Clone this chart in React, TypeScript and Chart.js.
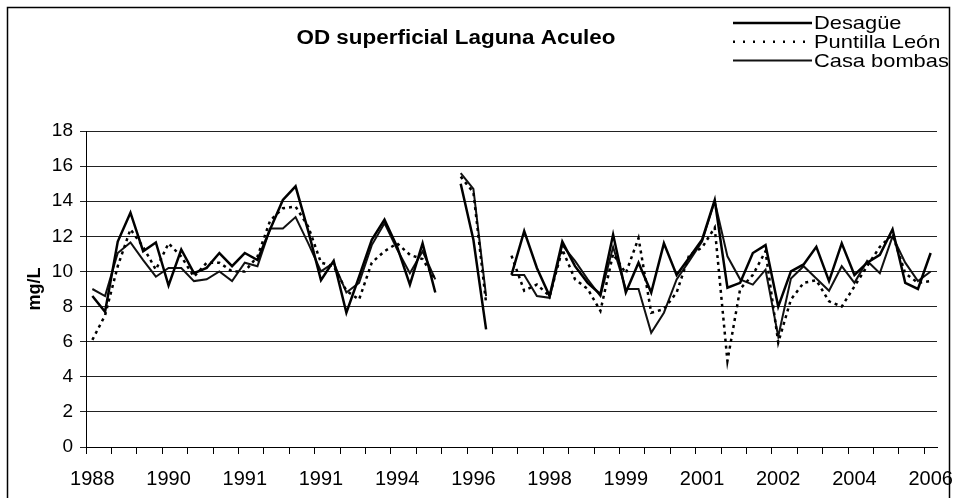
import React, { useEffect, useRef } from 'react';
import { Chart, registerables } from 'chart.js';

Chart.register(...registerables);

const chartTitle = 'OD superficial Laguna Aculeo';
const yAxisTitle = 'mg/L';
const seriesNames = ['Desagüe', 'Puntilla León', 'Casa bombas'];

// Labels shown on the category axis (one every 6 samples)
const tickYears = ['1988', '1990', '1991', '1991', '1994', '1996', '1998', '1999', '2001', '2002', '2004', '2006'];
const sampleCount = 67;
const categories = Array.from({ length: sampleCount }, (_, i) => (i % 6 === 0 ? tickYears[i / 6] : `m${i}`));

const yTicks = { min: 0, max: 18, step: 2 };

const desague = [
  8.6, 7.7, 11.7, 13.35, 11.15, 11.65, 9.2, 11.25, 9.9, 10.2,
  11.05, 10.3, 11.05, 10.65, 12.4, 14.07, 14.85, 12.3, 9.5, 10.6,
  7.65, 9.7, 11.8, 12.95, 11.4, 9.25, 11.6, 8.8, null, 15.0,
  11.8, 6.7, null, 9.8, 12.3, 10.2, 8.6, 11.7, 10.3, 9.35,
  8.7, 12.1, 8.8, 10.5, 8.8, 11.6, 9.8, 10.8, 11.8, 14.07,
  9.07, 9.35, 11.05, 11.5, 8.0, 10.0, 10.4, 11.4, 9.45, 11.6,
  9.8, 10.5, 10.95, 12.4, 9.35, 9.0, 11.05,
];

const puntillaLeon = [
  6.1, 7.5, 10.3, 12.4, 11.4, 10.1, 11.6, 10.85, 9.7, 10.5,
  10.5, 10.0, 10.0, 10.85, 12.9, 13.6, 13.7, 12.55, 10.5, 10.3,
  8.9, 8.4, 10.5, 11.15, 11.6, 10.95, 10.7, 9.55, null, 15.4,
  14.5, 8.2, null, 10.9, 8.9, 9.25, 8.6, 11.25, 9.55, 9.0,
  7.75, 11.0, 9.9, 11.9, 7.65, 7.85, 8.8, 10.95, 11.35, 12.5,
  4.9, 9.0, 9.8, 11.15, 5.95, 8.4, 9.35, 9.5, 8.3, 8.0,
  9.15, 10.3, 11.4, 12.1, 9.9, 9.35, 9.45,
];

const casaBombas = [
  9.0, 8.6, 11.05, 11.65, 10.65, 9.7, 10.2, 10.2, 9.45, 9.55,
  10.0, 9.45, 10.5, 10.3, 12.45, 12.45, 13.1, 11.6, 10.0, 10.5,
  8.8, 9.35, 11.5, 12.75, 11.25, 9.9, 11.15, 9.55, null, 15.6,
  14.7, 8.6, null, 9.8, 9.8, 8.6, 8.5, 11.5, 10.6, 9.55,
  8.6, 11.4, 9.0, 9.0, 6.5, 7.65, 9.55, 10.6, 11.7, 14.0,
  10.86, 9.55, 9.25, 10.1, 6.3, 9.6, 10.3, 9.6, 8.9, 10.3,
  9.35, 10.6, 9.9, 12.0, 10.5, 9.45, 10.0,
];

const FONT = '"Liberation Sans", Arial, Helvetica, sans-serif';

const decorPlugin = {
  id: 'decor',
  afterDraw(chart: any) {
    const ctx = chart.ctx as CanvasRenderingContext2D;
    ctx.save();
    ctx.strokeStyle = '#000';
    ctx.lineWidth = 1.5;
    ctx.strokeRect(7.5, 7.5, 942, 520);
    ctx.fillStyle = '#000';
    ctx.font = `bold 19.5px ${FONT}`;
    ctx.textAlign = 'center';
    ctx.textBaseline = 'alphabetic';
    ctx.translate(456, 44);
    ctx.scale(1.15, 1);
    ctx.fillText(chartTitle, 0, 0);
    ctx.restore();

    chart.data.datasets.forEach((ds: any, i: number) => {
      const y = 23 + i * 18.7;
      ctx.save();
      ctx.strokeStyle = ds.borderColor;
      ctx.lineWidth = ds.borderWidth;
      ctx.setLineDash(ds.borderDash ? [2, 8] : []);
      ctx.beginPath();
      ctx.moveTo(733, y);
      ctx.lineTo(812, y);
      ctx.stroke();
      ctx.setLineDash([]);
      ctx.fillStyle = '#000';
      ctx.font = `19px ${FONT}`;
      ctx.textBaseline = 'middle';
      ctx.textAlign = 'left';
      ctx.translate(814, y + 1);
      ctx.scale(1.15, 1);
      ctx.fillText(ds.label, 0, 0);
      ctx.restore();
    });
  },
};

export default function App() {
  const ref = useRef<HTMLCanvasElement | null>(null);

  useEffect(() => {
    document.body.style.margin = '0';
    const canvas = ref.current;
    if (!canvas) return;
    const chart = new Chart(canvas, {
      type: 'line',
      data: {
        labels: categories,
        datasets: [
          {
            label: seriesNames[0],
            data: desague,
            borderColor: '#000',
            borderWidth: 2.5,
            pointRadius: 0,
            tension: 0,
            spanGaps: false,
          },
          {
            label: seriesNames[1],
            data: puntillaLeon,
            borderColor: '#000',
            borderWidth: 2.5,
            borderDash: [3, 4],
            pointRadius: 0,
            tension: 0,
            spanGaps: false,
          },
          {
            label: seriesNames[2],
            data: casaBombas,
            borderColor: '#111',
            borderWidth: 2,
            pointRadius: 0,
            tension: 0,
            spanGaps: false,
          },
        ],
      },
      options: {
        animation: false,
        responsive: false,
        devicePixelRatio: 1,
        layout: { padding: { top: 131, right: 17, left: 0, bottom: 0 } },
        plugins: {
          legend: { display: false },
          title: { display: false },
          tooltip: { enabled: false },
        },
        scales: {
          x: {
            type: 'category',
            offset: true,
            afterFit: (s: any) => {
              s.height = 51;
              s.paddingLeft = 0;
              s.paddingRight = 0;
            },
            border: { display: true, color: '#000', width: 1 },
            grid: {
              offset: true,
              drawOnChartArea: false,
              drawTicks: true,
              tickLength: 7,
              color: (c: any) => (c.index % 2 === 0 ? '#000' : 'rgba(0,0,0,0)'),
            },
            ticks: {
              autoSkip: false,
              maxRotation: 0,
              minRotation: 0,
              padding: 13,
              color: '#000',
              font: { family: FONT, size: 20 },
              callback: (_v: any, i: number) => (i % 6 === 0 ? tickYears[i / 6] : ''),
            },
          },
          y: {
            min: yTicks.min,
            max: yTicks.max,
            afterFit: (s: any) => {
              s.width = 86;
            },
            border: { display: true, color: '#000', width: 1 },
            grid: {
              color: '#222',
              lineWidth: 1,
              drawTicks: true,
              tickLength: 6,
            },
            ticks: {
              stepSize: yTicks.step,
              padding: 7,
              color: '#000',
              font: { family: FONT, size: 19 },
            },
            title: {
              display: true,
              text: yAxisTitle,
              color: '#000',
              font: { family: FONT, size: 18, weight: 'bold' },
              padding: { top: 24, bottom: 0 },
            },
          },
        },
      },
      plugins: [decorPlugin],
    });
    return () => chart.destroy();
  }, []);

  return (
    <div style={{ width: 954, height: 498, position: 'relative' }}>
      <canvas ref={ref} width={954} height={498} style={{ display: 'block' }} />
    </div>
  );
}
